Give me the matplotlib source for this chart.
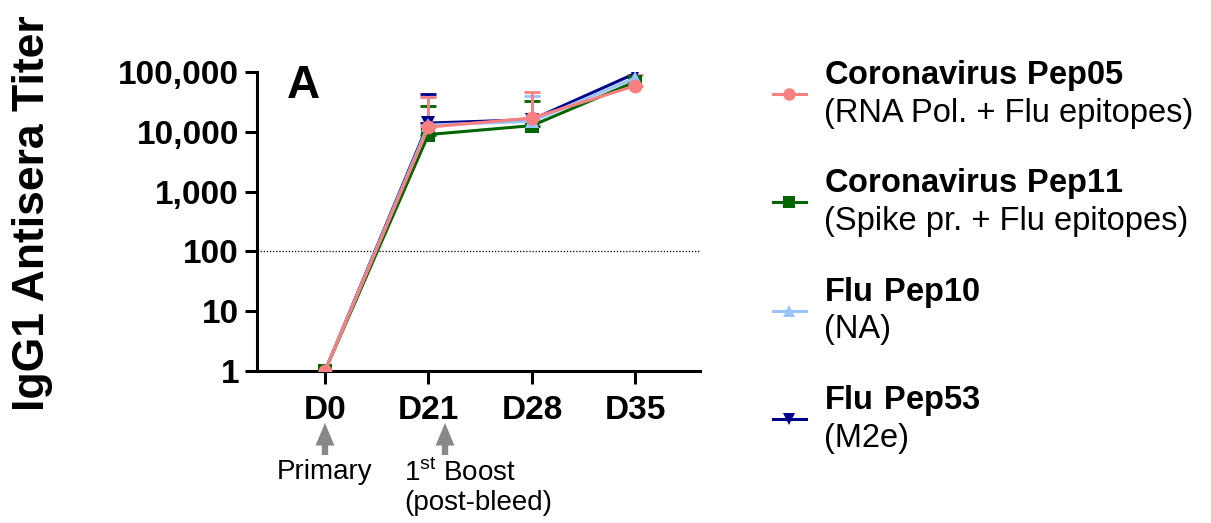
import numpy as np
import matplotlib.pyplot as plt
from matplotlib.ticker import FixedLocator, FuncFormatter

plt.rcParams['font.family'] = ['Liberation Sans', 'DejaVu Sans']
plt.rcParams['mathtext.fontset'] = 'custom'
plt.rcParams['mathtext.rm'] = 'Liberation Sans'
plt.rcParams['mathtext.bf'] = 'Liberation Sans:bold'

days = ['D0', 'D21', 'D28', 'D35']

# mean titers
pep05 = [1, 12000, 17000, 59000]
pep11 = [1, 9000, 12700, 69000]
pep10 = [1, 13000, 15000, 80000]
pep53 = [1, 14000, 16000, 95000]

# top of the upper error bars (equal to mean where no bar is drawn)
pep05_top = [1, 38000, 46000, 88000]
pep11_top = [1, 27000, 33000, 69000]
pep10_top = [1, 38000, 40000, 80000]
pep53_top = [1, 43000, 16000, 95000]

series = [
    ('Flu Pep53', '(M2e)', pep53, pep53_top, '#00008B', 'v'),
    ('Coronavirus Pep11', '(Spike pr. + Flu epitopes)', pep11, pep11_top, '#006400', 's'),
    ('Flu Pep10', '(NA)', pep10, pep10_top, '#99C4FA', '^'),
    ('Coronavirus Pep05', '(RNA Pol. + Flu epitopes)', pep05, pep05_top, '#F88080', 'o'),
]
legend_order = ['Coronavirus Pep05', 'Coronavirus Pep11', 'Flu Pep10', 'Flu Pep53']

fig = plt.figure(figsize=(12.11, 5.23), dpi=100)
ax = fig.add_axes([0.2122, 0.2906, 0.3658, 0.5717])

x = np.arange(len(days))
handles = {}
for i, (name, sub, vals, top, color, marker) in enumerate(series):
    vals = np.array(vals, dtype=float)
    up = np.array(top, dtype=float) - vals
    m = up > 0
    # cap at D35 for Pep05 sits behind the Pep53 marker, so draw bars below markers
    ax.errorbar(x[m], vals[m], yerr=[np.zeros(m.sum()), up[m]], fmt='none',
                ecolor=color, capsize=6, capthick=2, elinewidth=2, zorder=1.5 + i * 0.1)
    h, = ax.plot(x, vals, color=color, lw=2.2, marker=marker, markersize=10,
                 markeredgewidth=0, zorder=2 + i)
    handles[name] = (h, r'$\bf{' + name.replace(' ', r'\ ') + '}$\n' + sub)

ax.set_yscale('log')
ax.set_ylim(1, 100000)
ax.set_xlim(-0.657, 3.623)
ax.axhline(100, color='black', lw=0.9, ls=(0, (1, 1.5)), zorder=0)

ax.yaxis.set_major_locator(FixedLocator([1, 10, 100, 1000, 10000, 100000]))
ax.yaxis.set_minor_locator(FixedLocator([]))
ax.yaxis.set_major_formatter(FuncFormatter(lambda v, p: f'{int(v):,}'))
ax.set_xticks(x)
ax.set_xticklabels(days)

for s in ['top', 'right']:
    ax.spines[s].set_visible(False)
for s in ['left', 'bottom']:
    ax.spines[s].set_linewidth(2.2)
ax.tick_params(axis='both', length=9, width=2.2, direction='out')
ax.tick_params(axis='y', labelsize=24, pad=4)
ax.tick_params(axis='x', labelsize=24, pad=8)
for lbl in ax.get_xticklabels() + ax.get_yticklabels():
    lbl.set_fontweight('bold')

ax.text(287 / 1211, 1 - 98 / 523, 'A', transform=fig.transFigure,
        fontsize=33, fontweight='bold', ha='left', va='baseline')

fig.text(33 / 1211, 1 - 213 / 523, 'IgG1 Antisera Titer', rotation=90,
         fontsize=32, fontweight='bold', ha='center', va='center')

# arrows under the axis
arrow_props = dict(arrowstyle='simple,head_width=1.05,head_length=1.25,tail_width=0.35',
                   color='#888888', lw=0, mutation_scale=13, shrinkA=0, shrinkB=0)
for xa in [0, 1.16]:
    ax.annotate('', xy=(xa, 1 - 423 / 523), xytext=(xa, 1 - 455 / 523),
                xycoords=('data', 'figure fraction'),
                textcoords=('data', 'figure fraction'),
                arrowprops=arrow_props, annotation_clip=False)

fig.text(325 / 1211, 1 - 472 / 523, 'Primary', fontsize=20, ha='center', va='center')
fig.text(404 / 1211, 1 - 473 / 523, r'1$^{\mathrm{st}}$ Boost', fontsize=20,
         ha='left', va='center')
fig.text(404 / 1211, 1 - 503 / 523, '(post-bleed)', fontsize=20, ha='left', va='center')

leg = fig.legend([handles[n][0] for n in legend_order],
                 [handles[n][1] for n in legend_order],
                 loc='upper left', bbox_to_anchor=(773 / 1211, 1 - 58 / 523),
                 frameon=False, fontsize=23.5, handlelength=1.0, handletextpad=0.55,
                 labelspacing=1.15, borderpad=0, borderaxespad=0, markerscale=0.9)

fig.savefig('out.png', dpi=100)
